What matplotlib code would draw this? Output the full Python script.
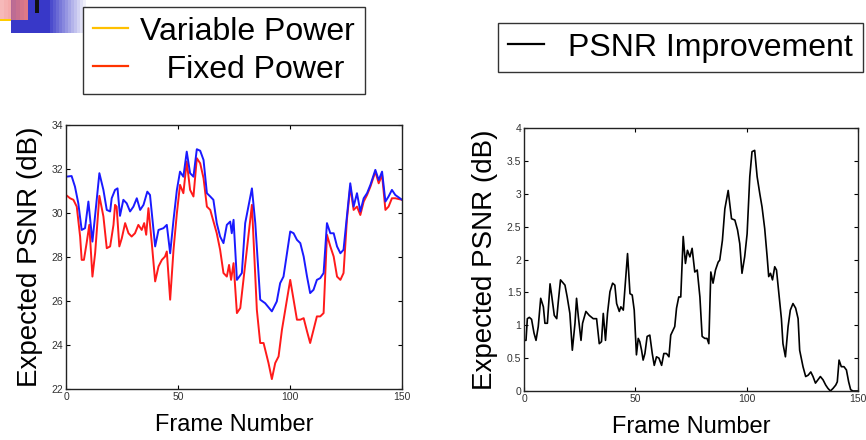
import matplotlib.pyplot as plt
from matplotlib.lines import Line2D
from matplotlib.patches import Rectangle

plt.rcParams['font.family'] = ['Liberation Sans', 'DejaVu Sans']

# left plot: expected PSNR per frame
var_frames = [0, 2.5, 4.0, 5.5, 7.0, 8.5, 10.0, 11.8, 13.4, 14.9, 16.7, 18.2, 19.7, 20.4, 21.9,
              23.0, 24.1, 25.6, 27.1, 28.6, 30.1, 31.6, 33.1, 34.6, 36.3, 37.5, 39.8, 41.3, 43.5,
              45.0, 46.5, 48.0, 49.5, 50.9, 52.4, 53.9, 55.4, 56.9, 58.4, 59.9, 61.4, 62.9, 64.4,
              65.8, 67.3, 68.8, 70.3, 71.8, 73.3, 74.0, 74.8, 76.3, 78.5, 80.0, 83.0, 84.5, 86.7,
              88.9, 91.9, 94.1, 95.6, 97.1, 100.1, 101.6, 103.1, 104.6, 106.1, 107.6, 109.0, 110.5,
              112.0, 113.5, 115.0, 116.5, 118.0, 119.5, 121.0, 122.5, 123.9, 125.4, 126.9, 128.4,
              129.9, 131.4, 132.9, 134.4, 135.9, 138.1, 139.6, 141.1, 142.6, 144.0, 145.5, 147.0, 150.0]
var_psnr = [31.65, 31.68, 31.20, 30.44, 29.23, 29.31, 30.52,
            28.70, 30.29, 31.81, 31.05, 30.14, 30.07, 30.67, 31.05, 31.12, 29.87,
            30.60, 30.44, 30.07, 30.29, 30.67, 30.14, 30.37, 30.97, 30.82, 28.48,
            29.23, 29.31, 29.46, 28.17, 29.69, 31.05, 31.88, 31.65, 32.79, 31.81,
            31.65, 32.90, 32.83, 32.41, 30.90, 30.75, 30.60, 29.54, 28.93, 28.63,
            29.46, 29.61, 29.08, 29.69, 26.96, 27.27, 29.54, 31.12, 29.54, 26.06,
            25.90, 25.53, 25.98, 26.81, 27.11, 29.16, 29.08, 28.78, 28.63, 28.02,
            27.11, 26.36, 26.51, 26.96, 27.04, 27.27, 29.54, 29.08, 29.08, 28.48,
            28.17, 28.33, 29.84, 31.35, 30.29, 30.90, 30.07, 30.67, 30.90, 31.28,
            31.96, 31.50, 31.88, 30.52, 30.75, 31.05, 30.82, 30.60]

fix_frames = [0, 1.8, 3.3, 4.8, 6.3, 7.0, 8.0, 9.2, 10.4, 11.8, 13.0, 14.9, 16.7, 18.2, 19.7,
              21.2, 21.9, 22.6, 23.8, 24.9, 26.4, 27.9, 29.3, 30.8, 32.3, 33.8, 34.9, 35.8, 36.8,
              38.3, 39.8, 41.3, 42.8, 44.2, 45.0, 46.5, 48.0, 49.5, 50.9, 52.4, 53.9, 55.4, 56.9,
              58.4, 59.9, 61.4, 62.9, 64.4, 67.3, 68.8, 70.3, 71.8, 72.8, 73.7, 74.8, 76.3, 77.8,
              83.0, 85.2, 86.7, 88.2, 90.4, 91.9, 93.4, 94.9, 96.4, 100.1, 101.6, 103.1, 104.6,
              106.1, 107.6, 109.0, 110.5, 112.0, 113.5, 115.0, 116.5, 118.0, 119.5, 121.0, 122.5,
              123.9, 125.4, 126.9, 128.4, 129.9, 131.4, 132.9, 134.4, 135.9, 138.1, 139.6, 141.1,
              142.6, 144.0, 145.5, 147.0, 150.0]
fix_psnr = [30.82, 30.67, 30.60, 30.29, 28.93, 27.87, 27.87, 28.63, 29.46, 27.11,
            28.17, 30.78, 29.84, 28.40, 28.48, 29.46, 30.37, 30.29, 28.48, 28.85,
            29.54, 29.08, 28.93, 29.08, 29.46, 29.23, 29.54, 29.01, 30.22, 28.63,
            26.89, 27.57, 27.87, 28.02, 28.25, 26.06, 28.33, 29.99, 31.28, 30.90,
            32.34, 31.05, 30.75, 32.49, 32.26, 31.58, 30.29, 30.14, 29.08, 28.33,
            27.27, 27.11, 27.64, 26.96, 27.72, 25.45, 25.68, 30.37, 25.60, 24.09,
            24.09, 23.18, 22.45, 23.18, 23.48, 24.69, 26.96, 26.06, 25.15, 25.15,
            25.22, 24.62, 24.09, 24.69, 25.30, 25.30, 25.45, 29.01, 28.48, 28.02,
            27.11, 26.96, 27.27, 29.69, 31.20, 30.14, 30.29, 29.91, 30.52, 30.82,
            31.20, 31.88, 31.35, 31.73, 30.14, 30.29, 30.67, 30.67, 30.60]

# right plot: PSNR improvement
imp_frames = [0.0, 0.9, 1.5, 2.4, 3.4, 4.5, 5.4, 6.4, 7.5, 8.7,
              9.4, 10.5, 11.7, 12.4, 13.6, 14.7, 15.4, 16.4, 18.4, 19.4,
              20.6, 21.7, 22.9, 23.6, 24.4, 25.6, 26.3, 27.8, 29.3, 31.1,
              32.6, 33.8, 34.8, 35.6, 36.6, 37.5, 38.6, 39.8, 40.8, 41.6,
              42.8, 43.5, 44.6, 45.6, 46.5, 47.6, 48.6, 49.5, 50.5, 51.3,
              52.0, 52.8, 53.5, 54.3, 55.3, 56.5, 57.6, 58.5, 59.5, 60.6,
              61.8, 62.8, 64.0, 65.1, 65.9, 67.0, 67.7, 68.5, 69.5, 70.4,
              71.5, 72.5, 73.4, 74.5, 75.5, 76.7, 77.8, 79.0, 80.0, 81.2,
              82.2, 83.0, 83.9, 84.9, 86.0, 87.2, 87.9, 89.1, 90.2, 91.7,
              93.2, 94.7, 95.9, 96.9, 97.9, 99.1, 100.2, 101.4, 102.4, 103.6,
              104.7, 105.9, 106.9, 108.1, 109.2, 109.9, 110.7, 111.6, 112.6, 113.4,
              114.6, 115.6, 116.3, 117.4, 118.6, 119.6, 120.8, 122.0, 123.1, 123.8,
              125.3, 126.5, 127.6, 128.8, 129.8, 130.9, 132.0, 133.1, 134.3, 135.5,
              136.5, 137.6, 138.8, 140.0, 140.7, 141.5, 142.5, 143.7, 144.8, 145.8,
              146.7, 147.7, 150.0]
imp_gain = [0.77, 0.77, 1.10, 1.12, 1.09, 0.88, 0.77, 0.98, 1.41, 1.28,
            1.03, 1.03, 1.63, 1.46, 1.15, 1.10, 1.36, 1.69, 1.61, 1.43,
            1.18, 0.62, 1.03, 1.41, 1.13, 0.77, 1.03, 1.21, 1.15, 1.10,
            1.10, 0.72, 0.75, 1.18, 0.77, 1.18, 1.51, 1.64, 1.61, 1.33,
            1.21, 1.28, 1.23, 1.69, 2.09, 1.48, 1.46, 1.23, 0.55, 0.80,
            0.75, 0.62, 0.47, 0.57, 0.83, 0.85, 0.57, 0.39, 0.52, 0.50,
            0.39, 0.57, 0.57, 0.52, 0.85, 0.93, 0.98, 1.26, 1.43, 1.43,
            2.35, 1.94, 2.14, 2.04, 2.17, 1.81, 1.84, 1.43, 0.83, 0.80,
            0.80, 0.72, 1.81, 1.64, 1.84, 1.96, 1.99, 2.29, 2.77, 3.05,
            2.62, 2.60, 2.45, 2.24, 1.79, 2.04, 2.39, 3.26, 3.64, 3.66,
            3.26, 3.00, 2.80, 2.47, 2.04, 1.74, 1.79, 1.69, 1.89, 1.84,
            1.43, 1.10, 0.72, 0.52, 0.98, 1.23, 1.33, 1.26, 1.10, 0.62,
            0.37, 0.22, 0.24, 0.29, 0.22, 0.12, 0.17, 0.22, 0.17, 0.09,
            0.04, 0.00, 0.04, 0.09, 0.14, 0.47, 0.37, 0.37, 0.32, 0.14,
            0.02, 0.00, 0.00]

x_ticks = [0, 50, 100, 150]
left_yticks = [22, 24, 26, 28, 30, 32, 34]
right_yticks = [0, 0.5, 1, 1.5, 2, 2.5, 3, 3.5, 4]
right_ylabels = ['0', '0.5', '1', '1.5', '2', '2.5', '3', '3.5', '4']

fig = plt.figure(figsize=(8.66, 4.4), dpi=100)

# slide decoration in the top left corner
fig.add_artist(Rectangle((11/866, 1 - 33/440), 39/866, 33/440, transform=fig.transFigure,
                         color='#3838c8', lw=0))
for i in range(12):
    fig.add_artist(Rectangle(((50 + i * 3)/866, 1 - 33/440), 3/866, 33/440,
                             transform=fig.transFigure, color='#3838c8',
                             alpha=0.9 * (1 - i / 12), lw=0))
for i in range(7):
    fig.add_artist(Rectangle((i * 4/866, 1 - 20/440), 4/866, 20/440, transform=fig.transFigure,
                             color='#f08080', alpha=0.55 + 0.06 * i, lw=0))
fig.add_artist(Rectangle((0, 1 - 21/440), 11/866, 2/440, transform=fig.transFigure,
                         color='#ffcc00', lw=0))
fig.add_artist(Rectangle((35/866, 1 - 13/440), 4/866, 13/440, transform=fig.transFigure,
                         color='#111111', lw=0))

ax1 = fig.add_axes([66/866, 1 - 389/440, 336/866, 264/440])
ax2 = fig.add_axes([524/866, 1 - 391/440, 334/866, 263/440])

ax1.plot(fix_frames, fix_psnr, color='#ff1a1a', lw=1.4)
ax1.plot(var_frames, var_psnr, color='#1a1aff', lw=1.4)
ax1.set_xlim(0, 150)
ax1.set_ylim(22, 34)
ax1.set_yticks(left_yticks)

ax2.plot(imp_frames, imp_gain, color='black', lw=1.2)
ax2.set_xlim(0, 150)
ax2.set_ylim(0, 4)
ax2.set_yticks(right_yticks)
ax2.set_yticklabels(right_ylabels)

for ax in (ax1, ax2):
    ax.set_xticks(x_ticks)
    ax.tick_params(direction='in', top=True, right=True, length=3, width=0.8,
                   labelsize=7.5, labelcolor='#333333', pad=2)
    for s in ax.spines.values():
        s.set_linewidth(1.0)
        s.set_color('#222222')
    ax.set_xlabel('Frame Number', fontsize=17, labelpad=9)
    ax.set_ylabel('Expected PSNR (dB)', fontsize=20, labelpad=6)

h1 = [Line2D([], [], color='#ffc000', lw=1.6), Line2D([], [], color='#ff3300', lw=1.6)]
fig.legend(h1, ['Variable Power', '   Fixed Power'], loc='upper left',
           bbox_to_anchor=(83/866, 1 - 7/440), fontsize=23, frameon=True, fancybox=False,
           edgecolor='#333333', framealpha=1, borderaxespad=0, borderpad=0.3,
           labelspacing=0.25, handlelength=1.1, handletextpad=0.4)

h2 = [Line2D([], [], color='black', lw=1.6)]
fig.legend(h2, ['PSNR Improvement'], loc='upper left',
           bbox_to_anchor=(498/866, 1 - 23/440), fontsize=23, frameon=True, fancybox=False,
           edgecolor='#333333', framealpha=1, borderaxespad=0, borderpad=0.3,
           handlelength=1.15, handletextpad=0.75)

fig.savefig('out.png', dpi=100)
